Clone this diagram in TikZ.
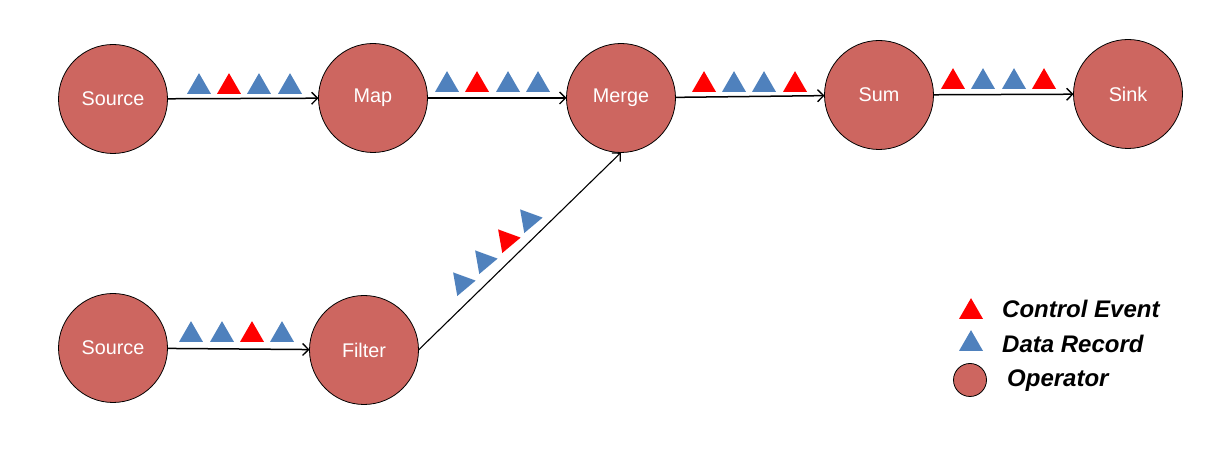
\documentclass[tikz,border=0pt]{standalone}
\usepackage{fontspec}
\setmainfont{Liberation Sans}
\usetikzlibrary{shapes.geometric,arrows.meta}
\definecolor{opred}{RGB}{205,102,96}
\definecolor{recblue}{RGB}{79,129,189}
\definecolor{evred}{RGB}{255,0,0}
\tikzset{
	op/.style={draw=black,circle,fill=opred,line width=0.8pt,inner sep=0,outer sep=0,minimum size=109pt,text=white,font=\fontsize{19.8}{22}\selectfont},
	tri/.style={regular polygon,regular polygon sides=3,inner sep=0,outer sep=0,minimum size=27.7pt},
	rec/.style={tri,fill=recblue},
	ev/.style={tri,fill=evred},
	flow/.style={line width=1.5pt,-{Straight Barb[length=6pt,width=12pt,line width=1.3pt]}},
	legtext/.style={anchor=base west,inner sep=0,font=\fontsize{24}{27}\selectfont\bfseries\itshape}
}
\begin{document}
\begin{tikzpicture}[x=1pt,y=1pt]
	\useasboundingbox (0,0) rectangle (1215,470);
	\node[op] (src1) at (113,371) {Source};
	\node[op] (map) at (373,372) {Map};
	\node[op] (merge) at (621,372) {Merge};
	\node[op] (sum) at (879,375) {Sum};
	\node[op] (sink) at (1128,376) {Sink};
	\node[op] (src2) at (113,122) {Source};
	\node[op] (filter) at (364,120) {Filter};
	\draw[flow] (src1) -- (map);
	\draw[flow] (map) -- (merge);
	\draw[flow] (merge) -- (sum);
	\draw[flow] (sum) -- (sink);
	\draw[flow] (src2) -- (filter);
	\draw[flow,line width=1.1pt] (filter.east) -- (merge.south);
	% Source -> Map
	\node[rec] (a1) at (199,383) {};
	\node[ev] (a2) at (229,383) {};
	\node[rec] (a3) at (259,383) {};
	\node[rec] (a4) at (290,383) {};
	% Map -> Merge
	\node[rec] (b1) at (447,385) {};
	\node[ev] (b2) at (477,385) {};
	\node[rec] (b3) at (508,385) {};
	\node[rec] (b4) at (538,385) {};
	% Merge -> Sum
	\node[ev] (c1) at (704,385) {};
	\node[rec] (c2) at (734,385) {};
	\node[rec] (c3) at (764,385) {};
	\node[ev] (c4) at (795,385) {};
	% Sum -> Sink
	\node[ev] (d1) at (953,388) {};
	\node[rec] (d2) at (983,388) {};
	\node[rec] (d3) at (1014,388) {};
	\node[ev] (d4) at (1044,388) {};
	% Source -> Filter
	\node[rec] (e1) at (191,135) {};
	\node[rec] (e2) at (222,135) {};
	\node[ev] (e3) at (252,135) {};
	\node[rec] (e4) at (282,135) {};
	% Filter -> Merge
	\node[rec,rotate=40] (f1) at (462,187) {};
	\node[rec,rotate=40] (f2) at (484,209) {};
	\node[ev,rotate=40] (f3) at (507,230) {};
	\node[rec,rotate=40] (f4) at (529,250) {};
	% legend
	\node[ev] (kev) at (971,158) {};
	\node[rec] (krec) at (971,126) {};
	\node[op,minimum size=33pt] (kop) at (970,90) {};
	\node[legtext] (lev) at (1002,152) {Control Event};
	\node[legtext] (lrec) at (1002,117) {Data Record};
	\node[legtext] (lop) at (1007,83) {Operator};
\end{tikzpicture}
\end{document}
